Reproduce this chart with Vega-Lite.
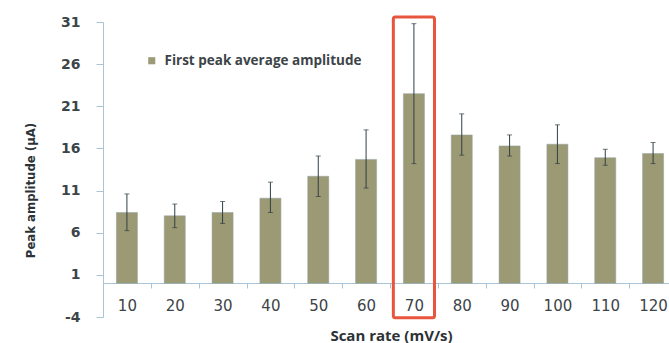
{
  "$schema": "https://vega.github.io/schema/vega-lite/v6.json",
  "width": 566,
  "height": 295,
  "autosize": {"type": "none"},
  "padding": {"left": 103, "top": 22, "right": 0, "bottom": 26},
  "background": "#ffffff",
  "config": {"view": {"stroke": null}},
  "datasets": {
    "bars": [
      {"rate": "10", "amp": 8.4, "lo": 6.25, "hi": 10.6, "series": "First peak average amplitude"},
      {"rate": "20", "amp": 8.0, "lo": 6.6, "hi": 9.4, "series": "First peak average amplitude"},
      {"rate": "30", "amp": 8.4, "lo": 7.1, "hi": 9.7, "series": "First peak average amplitude"},
      {"rate": "40", "amp": 10.1, "lo": 8.4, "hi": 12.0, "series": "First peak average amplitude"},
      {"rate": "50", "amp": 12.7, "lo": 10.3, "hi": 15.1, "series": "First peak average amplitude"},
      {"rate": "60", "amp": 14.7, "lo": 11.3, "hi": 18.2, "series": "First peak average amplitude"},
      {"rate": "70", "amp": 22.5, "lo": 14.2, "hi": 30.8, "series": "First peak average amplitude"},
      {"rate": "80", "amp": 17.6, "lo": 15.2, "hi": 20.1, "series": "First peak average amplitude"},
      {"rate": "90", "amp": 16.3, "lo": 15.1, "hi": 17.6, "series": "First peak average amplitude"},
      {"rate": "100", "amp": 16.5, "lo": 14.2, "hi": 18.8, "series": "First peak average amplitude"},
      {"rate": "110", "amp": 14.9, "lo": 14.0, "hi": 15.9, "series": "First peak average amplitude"},
      {"rate": "120", "amp": 15.4, "lo": 14.2, "hi": 16.7, "series": "First peak average amplitude"}
    ],
    "highlight": [
      {"rate": "70", "top": 31.6, "bottom": -4.1}
    ]
  },
  "encoding": {
    "x": {
      "field": "rate",
      "type": "nominal",
      "sort": null,
      "scale": {"domain": ["10","20","30","40","50","60","70","80","90","100","110","120"], "range": [0, 574], "paddingInner": 0, "paddingOuter": 0},
      "axis": {
        "title": "Scan rate (mV/s)",
        "labelAngle": 0,
        "offset": -34,
        "tickBand": "extent",
        "tickSize": 5,
        "tickColor": "#a9c4d6",
        "domainColor": "#a9c4d6",
        "labelPadding": 10,
        "labelFont": "DejaVu Sans",
        "labelFontSize": 15,
        "labelColor": "#3c4448",
        "titleFont": "Open Sans",
        "titleFontWeight": "bold",
        "titleFontSize": 15,
        "titleColor": "#2c3236",
        "titleX": 288,
        "titlePadding": 15
      }
    }
  },
  "layer": [
    {
      "data": {"name": "bars"},
      "mark": {"type": "bar", "width": {"band": 0.44}, "stroke": "#8fa0a0", "strokeWidth": 0.5},
      "encoding": {
        "y": {
          "field": "amp",
          "type": "quantitative",
          "scale": {"domain": [-4, 31], "nice": false, "zero": false},
          "axis": {
            "values": [-4, 1, 6, 11, 16, 21, 26, 31],
            "labelExpr": "replace(datum.label, '−', '-')",
            "grid": false,
            "title": "Peak amplitude (µA)",
            "tickSize": 7,
            "tickColor": "#a9c4d6",
            "domainColor": "#a9c4d6",
            "labelPadding": 16,
            "labelFont": "DejaVu Sans",
            "labelFontWeight": "bold",
            "labelFontSize": 14,
            "labelColor": "#3c4448",
            "titleFont": "DejaVu Sans Condensed, Liberation Sans, sans-serif",
            "titleFontWeight": "bold",
            "titleFontSize": 13,
            "titleColor": "#2c3236",
            "titleX": -73,
            "titleY": 168,
            "titleAlign": "center",
            "titleBaseline": "middle"
          }
        },
        "y2": {"datum": 0},
        "color": {
          "field": "series",
          "type": "nominal",
          "scale": {"range": ["#9c9a74"]},
          "legend": {
            "title": null,
            "orient": "none",
            "legendX": 42,
            "legendY": 32,
            "symbolType": "square",
            "symbolSize": 50,
            "symbolStrokeWidth": 0,
            "labelFont": "Open Sans",
            "labelFontWeight": "bold",
            "labelFontSize": 13.5,
            "labelColor": "#3c4448",
            "labelOffset": 6,
            "labelLimit": 400
          }
        }
      }
    },
    {
      "data": {"name": "bars"},
      "mark": {"type": "rule", "color": "#2f3f45", "strokeWidth": 1},
      "encoding": {
        "y": {"field": "lo", "type": "quantitative"},
        "y2": {"field": "hi"}
      }
    },
    {
      "data": {"name": "bars"},
      "mark": {"type": "tick", "color": "#2f3f45", "size": 5, "thickness": 1, "orient": "horizontal"},
      "encoding": {
        "y": {"field": "lo", "type": "quantitative"}
      }
    },
    {
      "data": {"name": "bars"},
      "mark": {"type": "tick", "color": "#2f3f45", "size": 5, "thickness": 1, "orient": "horizontal"},
      "encoding": {
        "y": {"field": "hi", "type": "quantitative"}
      }
    },
    {
      "data": {"name": "highlight"},
      "mark": {"type": "bar", "width": {"band": 0.86}, "fill": null, "fillOpacity": 0, "stroke": "#e8553d", "strokeWidth": 3, "cornerRadius": 2},
      "encoding": {
        "y": {"field": "top", "type": "quantitative"},
        "y2": {"field": "bottom"}
      }
    }
  ]
}
